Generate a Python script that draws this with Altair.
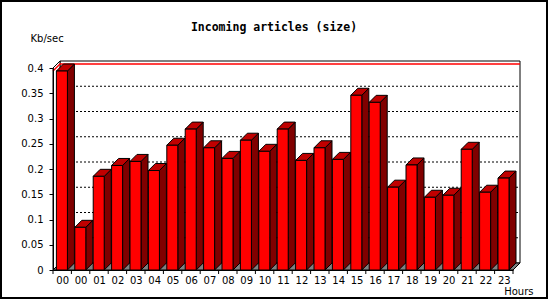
import altair as alt
import pandas as pd

# ---- data ----
hour_labels = ["00", "00", "01", "02", "03", "04", "05", "06", "07", "08", "09", "10",
               "11", "12", "13", "14", "15", "16", "17", "18", "19", "20", "21", "22", "23"]
values = [0.394, 0.0845, 0.1855, 0.207, 0.215, 0.197, 0.247, 0.279, 0.242, 0.221, 0.257, 0.235,
          0.279, 0.217, 0.242, 0.219, 0.346, 0.332, 0.164, 0.208, 0.144, 0.148, 0.239, 0.154, 0.182]
y_tick_values = [0, 0.05, 0.1, 0.15, 0.2, 0.25, 0.3, 0.35, 0.4]
grid_values = [0.05, 0.1, 0.15, 0.2, 0.25, 0.3, 0.35]

# ---- geometry (3D look) ----
N = len(values)
W, H = 460, 202
YMAX = 0.4
DX = 7 / (W / N)       # depth in x units (7 px)
DY = 7 / (H / YMAX)    # depth in y units (7 px)
FL, FR = 0.185, 0.783  # front face inside each slot

xs = alt.Scale(domain=[0, N], nice=False, zero=False)
ys = alt.Scale(domain=[0, YMAX], nice=False, zero=True)
FONT = "DejaVu Sans"

label_js = "[" + ",".join("'%s'" % h for h in hour_labels) + "]"
x_axis = alt.Axis(values=[i + 0.5 for i in range(N)], labelExpr=label_js + "[floor(datum.value)]",
                  ticks=False, tickSize=0, grid=False, domain=True, domainColor="black",
                  labelFont=FONT, labelFontSize=10, labelColor="black", labelPadding=13,
                  labelBaseline="alphabetic", labelAngle=0, zindex=1,
                  title="Hours", titleFont=FONT, titleFontSize=10, titleFontWeight="normal",
                  titleColor="black", titleAlign="right", titleX=480, titleY=24,
                  titleBaseline="alphabetic")
y_axis = alt.Axis(values=y_tick_values, format="~g", grid=False, domain=True, domainColor="black",
                  tickColor="black", tickSize=4, labelFont=FONT, labelFontSize=10, labelColor="black",
                  labelPadding=6, title="Kb/sec", titleFont=FONT, titleFontSize=10, zindex=1,
                  titleFontWeight="normal", titleColor="black", titleAngle=0, titleAlign="left",
                  titleBaseline="alphabetic", titleX=-23, titleY=-27)


def X(f):
    return alt.X(f, scale=xs, axis=x_axis)


def Y(f):
    return alt.Y(f, scale=ys, axis=y_axis)


# back wall
back = pd.DataFrame({"x": [DX], "x2": [N + DX], "y": [DY], "y2": [YMAX + DY]})
back_l = alt.Chart(back).mark_rect(fill="white", stroke="black", strokeWidth=1).encode(
    x=X("x:Q"), x2="x2", y=Y("y:Q"), y2="y2")

# left wall
left = pd.DataFrame({"x": [0, DX], "y": [YMAX, YMAX + DY], "y2": [0, DY]})
left_l = alt.Chart(left).mark_area(orient="vertical", fill="white", stroke="black", strokeWidth=1).encode(
    x=X("x:Q"), y=Y("y:Q"), y2="y2")

# dotted gridlines on back wall
grid = pd.DataFrame({"g": [g + DY for g in grid_values]})
grid["x"] = DX
grid["x2"] = N + DX
grid_l = alt.Chart(grid).mark_rule(color="black", strokeWidth=1, strokeDash=[2, 2]).encode(
    x=X("x:Q"), x2="x2", y=Y("g:Q"))

# max line (red)
m = max(values)
maxdf = pd.DataFrame({"x": [0, DX, N + DX], "y": [m, m + DY, m + DY], "o": [0, 1, 2]})
max_l = alt.Chart(maxdf).mark_line(color="#ff0000", strokeWidth=1.5).encode(
    x=X("x:Q"), y=Y("y:Q"), order="o:Q")

# floor
floor = pd.DataFrame({"y": [0, DY], "x": [0, DX], "x2": [N, N + DX]})
floor_l = alt.Chart(floor).mark_area(orient="horizontal", fill="#808080", stroke="black", strokeWidth=1).encode(
    y=Y("y:Q"), x=X("x:Q"), x2="x2")

# bar faces
side_rows, top_rows, front_rows = [], [], []
for i, v in enumerate(values):
    side_rows.append({"bar": i, "x": i + FR, "y": v, "y2": 0})
    side_rows.append({"bar": i, "x": i + FR + DX, "y": v + DY, "y2": DY})
    top_rows.append({"bar": i, "y": v, "x": i + FL, "x2": i + FR})
    top_rows.append({"bar": i, "y": v + DY, "x": i + FL + DX, "x2": i + FR + DX})
    front_rows.append({"bar": i, "x": i + FL, "x2": i + FR, "y": v})

side_l = alt.Chart(pd.DataFrame(side_rows)).mark_area(
    orient="vertical", fill="#800000", stroke="black", strokeWidth=1).encode(
    x=X("x:Q"), y=Y("y:Q"), y2="y2", detail="bar:N")

top_l = alt.Chart(pd.DataFrame(top_rows)).mark_area(
    orient="horizontal", fill="#c00000", stroke="black", strokeWidth=1).encode(
    y=Y("y:Q"), x=X("x:Q"), x2="x2", detail="bar:N")

front_l = alt.Chart(pd.DataFrame(front_rows)).mark_rect(
    fill="#ff0000", stroke="black", strokeWidth=1).encode(
    x=X("x:Q"), x2="x2", y=Y("y:Q"), y2=alt.datum(0))

# x-axis ticks at slot edges
ticks = pd.DataFrame({"x": list(range(N + 1))})
tick_l = alt.Chart(ticks).mark_rule(color="black", strokeWidth=1).encode(
    x=X("x:Q"), y=alt.value(H), y2=alt.value(H + 4))

# outer frame
frame_l = alt.Chart(pd.DataFrame({"a": [0]})).mark_rect(
    fillOpacity=0, stroke="black", strokeWidth=2).encode(
    x=alt.value(1 - 53), x2=alt.value(547 - 53), y=alt.value(1 - 68), y2=alt.value(298 - 68))

chart = alt.layer(back_l, left_l, grid_l, max_l, floor_l, side_l, top_l, front_l, tick_l, frame_l).properties(
    width=W, height=H,
    autosize="none",
    padding={"left": 53, "top": 68, "right": 37, "bottom": 30},
    title=alt.TitleParams("Incoming articles (size)", font="DejaVu Sans Mono", fontSize=11.5,
                          fontWeight="bold", color="black", anchor="middle", dx=-9, offset=0,
                          dy=42, baseline="alphabetic"),
    background="white",
).configure_view(stroke=None)

chart.save("out.html", embed_options={"renderer": "svg", "actions": False})
